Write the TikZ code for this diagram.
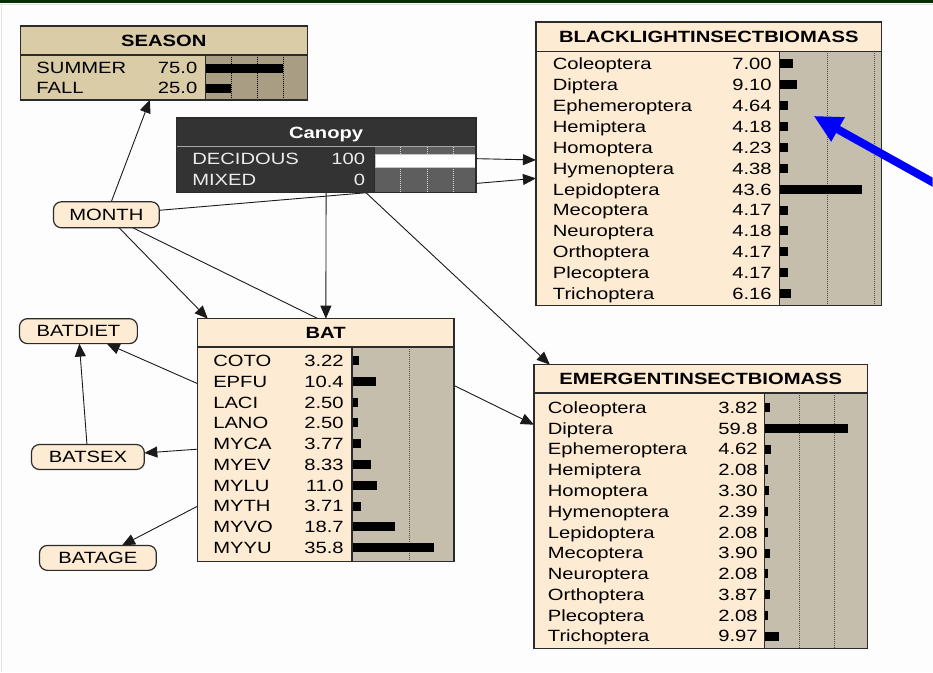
\documentclass[tikz,border=0pt]{standalone}
\usepackage{fontspec}
\setmainfont{Liberation Sans}[FakeStretch=1.24]
\usetikzlibrary{arrows.meta}

\definecolor{peach}{HTML}{FDEBD3}
\definecolor{barbg}{HTML}{C6BEAC}
\definecolor{seasonbg}{HTML}{D9CCA7}
\definecolor{seasonbar}{HTML}{A99D84}
\definecolor{canopybg}{HTML}{333333}
\definecolor{canopybar}{HTML}{5E5E5E}
\definecolor{edge}{HTML}{2B2B2B}
\definecolor{pagebg}{HTML}{FDFDFD}
\definecolor{topband}{HTML}{062F06}
\definecolor{linkcol}{HTML}{1A1A1A}

\pgfdeclarelayer{pagelayer}
\pgfdeclarelayer{linklayer}
\pgfsetlayers{pagelayer,linklayer,main}

\newcommand\netfont{\fontsize{16.3pt}{19pt}\selectfont}

\tikzset{
  netbox/.style={draw=edge, line width=1.3pt, inner sep=0pt, outer sep=0pt, rectangle},
  statenode/.style={draw=edge, line width=1.2pt, fill=peach, rounded corners=8pt,
    inner sep=0pt, outer sep=0pt, font=\netfont},
  lbl/.style={inner sep=0pt, outer sep=0pt, font=\netfont},
  ttl/.style={inner sep=0pt, outer sep=0pt, font=\netfont\bfseries, anchor=base},
  gridline/.style={draw=#1, line width=0.8pt, dash pattern=on 1pt off 1pt},
  sepline/.style={draw=edge, line width=1.3pt},
  link/.style={draw=linkcol, line width=0.9pt, -{Triangle[length=13pt,width=11pt]}},
  pointer/.style={draw=blue, line width=8pt, -{Triangle[length=28pt,width=26pt]}},
}

\begin{document}
\begin{tikzpicture}[x=1pt,y=-1pt]
% page background and window frame
\begin{pgfonlayer}{pagelayer}
  \fill[pagebg] (0,0) rectangle (933,673);
  \fill[topband] (0,0) rectangle (933,3.4);
  \draw[gray!25, line width=1pt] (0,4.2) -- (933,4.2);
  \draw[gray!20, line width=1pt] (0.7,4) -- (0.7,673);
\end{pgfonlayer}
\useasboundingbox (0,0) rectangle (933,673);

% ---------------- SEASON ----------------
\node[netbox, fill=seasonbg, minimum width=287pt, minimum height=74pt] (season) at (163.5,63) {};
\fill[seasonbar] (205,55) rectangle (307,100);
\foreach \gx in {231,257,283} \draw[gridline=black] (\gx,55) -- (\gx,100);
\node[ttl] (season-title) at (163.5,46.4) {SEASON};
\foreach \lab/\val [count=\i from 0] in {SUMMER/75.0,FALL/25.0} {
  \pgfmathsetmacro\ry{68+20*\i}
  \node[lbl, anchor=base west] (season-l\i) at (36,\ry+5.85) {\lab};
  \node[lbl, anchor=base east] (season-v\i) at (197,\ry+5.85) {\val};
  \fill[black] (205,\ry-4) rectangle ++(\val*1.04,9);
}
\draw[sepline] (20,55) -- (307,55) (205,55) -- (205,100);
\draw[sepline] (season.north west) rectangle (season.south east);

% ---------------- Canopy ----------------
\node[netbox, fill=canopybg, minimum width=300pt, minimum height=75pt] (canopy) at (326,155.5) {};
\fill[canopybar] (375,147) rectangle (476,193);
\foreach \gx in {400,427,453} \draw[gridline=white!85!black] (\gx,147) -- (\gx,193);
\filldraw[fill=white, draw=gray!45, line width=1pt] (375,154.5) rectangle (476,167.5);
\draw[gray!70, line width=0.8pt] (176,147) -- (476,147);
\draw[edge, line width=1.3pt] (374.5,147.5) -- (374.5,193);
\node[ttl, text=white] (canopy-title) at (326,138.5) {Canopy};
\foreach \lab/\val [count=\i from 0] in {DECIDOUS/100,MIXED/0} {
  \pgfmathsetmacro\ry{159+21*\i}
  \node[lbl, anchor=base west, text=white!92!black] (canopy-l\i) at (192,\ry+5.85) {\lab};
  \node[lbl, anchor=base east, text=white!92!black] (canopy-v\i) at (365,\ry+5.85) {\val};
}
\draw[sepline] (canopy.north west) rectangle (canopy.south east);

% ---------------- BLACKLIGHTINSECTBIOMASS ----------------
\node[netbox, fill=peach, minimum width=346pt, minimum height=284pt] (blacklight) at (709,164) {};
\fill[barbg] (780,51.5) rectangle (882,306);
\foreach \gx in {827.5,875} \draw[gridline=black!70] (\gx,51.5) -- (\gx,306);
\node[ttl] (blacklight-title) at (709,42.3) {BLACKLIGHTINSECTBIOMASS};
\foreach \lab/\val [count=\i from 0] in {Coleoptera/7.00,Diptera/9.10,Ephemeroptera/4.64,
    Hemiptera/4.18,Homoptera/4.23,Hymenoptera/4.38,Lepidoptera/43.6,Mecoptera/4.17,
    Neuroptera/4.18,Orthoptera/4.17,Plecoptera/4.17,Trichoptera/6.16} {
  \pgfmathsetmacro\ry{64+20.9*\i}
  \node[lbl, anchor=base west] (blacklight-l\i) at (553,\ry+5.85) {\lab};
  \node[lbl, anchor=base east] (blacklight-v\i) at (772,\ry+5.85) {\val};
  \fill[black] (780,\ry-4.5) rectangle ++(\val*1.9,9);
}
\draw[sepline] (536,51.5) -- (882,51.5) (780,51.5) -- (780,306);
\draw[sepline] (blacklight.north west) rectangle (blacklight.south east);

% ---------------- EMERGENTINSECTBIOMASS ----------------
\node[netbox, fill=peach, minimum width=334pt, minimum height=284pt] (emergent) at (701,507) {};
\fill[barbg] (765,393.5) rectangle (868,649);
\foreach \gx in {799.7,834.4} \draw[gridline=black!70] (\gx,393.5) -- (\gx,649);
\node[ttl] (emergent-title) at (701,385.3) {EMERGENTINSECTBIOMASS};
\foreach \lab/\val [count=\i from 0] in {Coleoptera/3.82,Diptera/59.8,Ephemeroptera/4.62,
    Hemiptera/2.08,Homoptera/3.30,Hymenoptera/2.39,Lepidoptera/2.08,Mecoptera/3.90,
    Neuroptera/2.08,Orthoptera/3.87,Plecoptera/2.08,Trichoptera/9.97} {
  \pgfmathsetmacro\ry{408+20.8*\i}
  \node[lbl, anchor=base west] (emergent-l\i) at (548,\ry+5.85) {\lab};
  \node[lbl, anchor=base east] (emergent-v\i) at (758,\ry+5.85) {\val};
  \fill[black] (765,\ry-4.5) rectangle ++(\val*1.388,9);
}
\draw[sepline] (534,393.5) -- (868,393.5) (765,393.5) -- (765,649);
\draw[sepline] (emergent.north west) rectangle (emergent.south east);

% ---------------- BAT ----------------
\node[netbox, fill=peach, minimum width=257pt, minimum height=243pt] (bat) at (325.5,440.5) {};
\fill[barbg] (352,347.5) rectangle (454,562);
\draw[gridline=black!70] (409,347.5) -- (409,562);
\node[ttl] (bat-title) at (325.5,339) {BAT};
\foreach \lab/\val [count=\i from 0] in {COTO/3.22,EPFU/10.4,LACI/2.50,LANO/2.50,
    MYCA/3.77,MYEV/8.33,MYLU/11.0,MYTH/3.71,MYVO/18.7,MYYU/35.8} {
  \pgfmathsetmacro\ry{361+20.8*\i}
  \node[lbl, anchor=base west] (bat-l\i) at (213,\ry+5.85) {\lab};
  \node[lbl, anchor=base east] (bat-v\i) at (343.5,\ry+5.85) {\val};
  \fill[black] (352,\ry-4.5) rectangle ++(\val*2.29,9);
}
\draw[sepline] (197,347.5) -- (454,347.5) (352,347.5) -- (352,562);
\draw[sepline] (bat.north west) rectangle (bat.south east);

% ---------------- small state nodes ----------------
\node[statenode, minimum width=106pt, minimum height=26pt] (month)   at (106,215)    {MONTH};
\node[statenode, minimum width=118pt, minimum height=25pt] (batdiet) at (78,331.5)   {BATDIET};
\node[statenode, minimum width=113pt, minimum height=25pt] (batsex)  at (87.5,457.5) {BATSEX};
\node[statenode, minimum width=117pt, minimum height=25pt] (batage)  at (97.5,558.5) {BATAGE};

% ---------------- links (behind the boxes) ----------------
\begin{pgfonlayer}{linklayer}
  \draw[link] (month) -- (season);
  \draw[link] (month) -- (blacklight);
  \draw[link] (canopy) -- (blacklight);
  \draw[link] (canopy) -- (bat);
  \draw[link] (month) -- (bat);
  \draw[link] (month) -- (emergent);
  \draw[link] (canopy) -- (emergent);
  \draw[link] (bat) -- (batdiet);
  \draw[link] (bat) -- (batsex);
  \draw[link] (bat) -- (batage);
  \draw[link] (batsex) -- (batdiet);
\end{pgfonlayer}

% ---------------- blue pointer ----------------
\begin{scope}
  \clip (0,0) rectangle (933,673);
  \coordinate (pointer-tail) at (962,198.5);
  \coordinate (pointer-tip) at (814,116);
  \draw[pointer] (pointer-tail) -- (pointer-tip);
\end{scope}
\end{tikzpicture}
\end{document}
